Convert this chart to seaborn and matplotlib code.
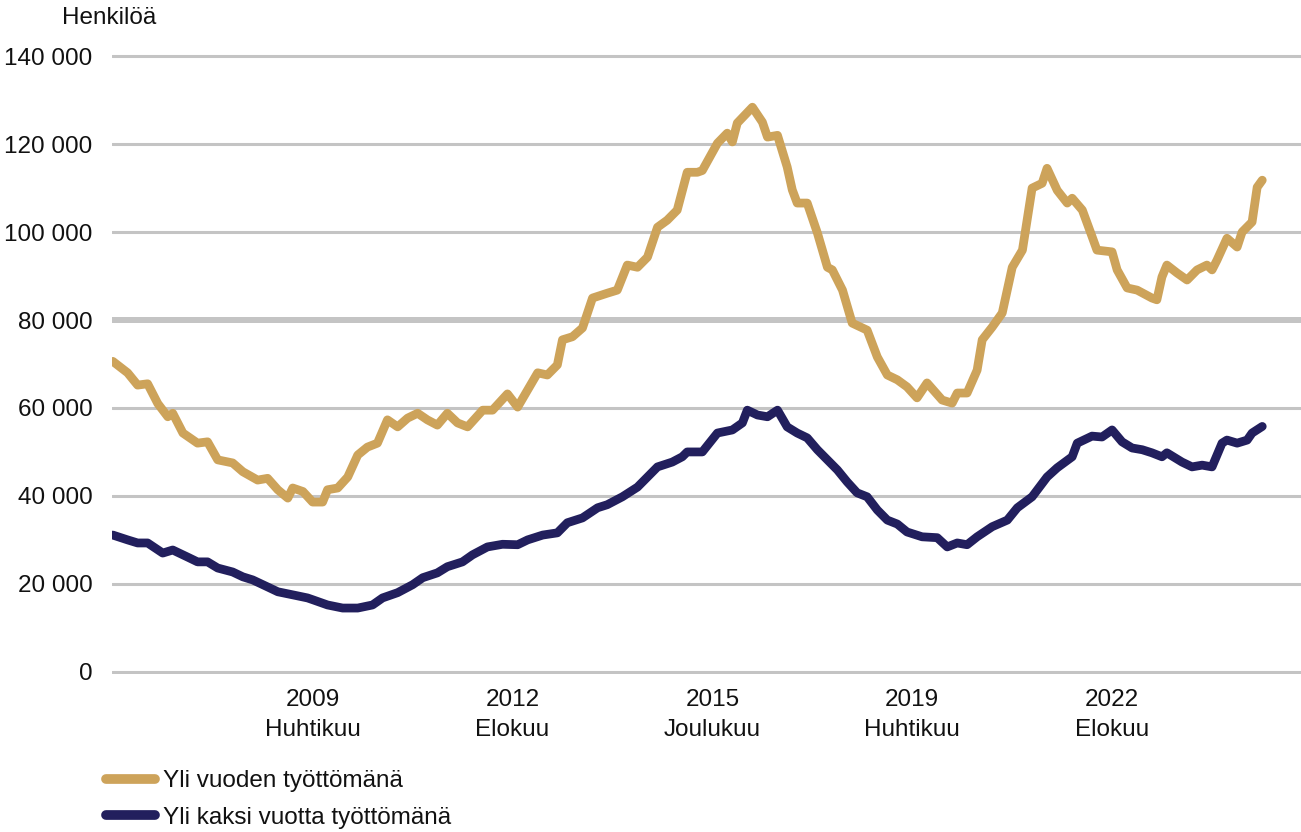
import matplotlib
matplotlib.use("Agg")
import matplotlib.pyplot as plt
import matplotlib.ticker as mticker
from matplotlib.lines import Line2D
import pandas as pd
import seaborn as sns

# ---- data (thousands of persons) ----
gold_dates = [
    "2005-12", "2006-03", "2006-05", "2006-07", "2006-09", "2006-11", "2006-12",
    "2007-02", "2007-05", "2007-07", "2007-09", "2007-12", "2008-02", "2008-05",
    "2008-07", "2008-09", "2008-11", "2008-12", "2009-02", "2009-04", "2009-06",
    "2009-07", "2009-09", "2009-11", "2010-01", "2010-03", "2010-05", "2010-07",
    "2010-09", "2010-11", "2011-01", "2011-03", "2011-05", "2011-07", "2011-09",
    "2011-11", "2012-02", "2012-04", "2012-07", "2012-09", "2012-11", "2013-01",
    "2013-03", "2013-05", "2013-06", "2013-08", "2013-10", "2013-12", "2014-03",
    "2014-05", "2014-07", "2014-09", "2014-11", "2015-01", "2015-03", "2015-05",
    "2015-07", "2015-09", "2015-10", "2016-01", "2016-03", "2016-04", "2016-05",
    "2016-08", "2016-10", "2016-11", "2017-01", "2017-03", "2017-04", "2017-05",
    "2017-07", "2017-09", "2017-11", "2017-12", "2018-02", "2018-04", "2018-07",
    "2018-09", "2018-11", "2019-01", "2019-03", "2019-05", "2019-07", "2019-10",
    "2019-12", "2020-01", "2020-03", "2020-05", "2020-06", "2020-08", "2020-10",
    "2020-12", "2021-02", "2021-04", "2021-06", "2021-07", "2021-09", "2021-11",
    "2021-12", "2022-02", "2022-04", "2022-05", "2022-08", "2022-09", "2022-11",
    "2023-01", "2023-04", "2023-05", "2023-06", "2023-07", "2023-09", "2023-11",
    "2024-01", "2024-03", "2024-04", "2024-05", "2024-07", "2024-09", "2024-10",
    "2024-12", "2025-01", "2025-02",
]
gold_values = [
    70.6, 68.0, 65.2, 65.5, 61.0, 58.0, 58.8,
    54.3, 52.0, 52.3, 48.2, 47.5, 45.5, 43.6,
    44.0, 41.4, 39.5, 41.8, 41.0, 38.6, 38.6,
    41.4, 41.8, 44.3, 49.3, 51.1, 52.0, 57.3,
    55.7, 57.7, 58.8, 57.3, 56.1, 58.8, 56.6,
    55.7, 59.5, 59.5, 63.2, 60.2, 64.1, 68.0,
    67.5, 69.8, 75.5, 76.2, 78.2, 85.0, 86.1,
    86.8, 92.5, 92.0, 94.3, 101.1, 102.7, 105.0,
    113.6, 113.6, 114.0, 120.2, 122.5, 120.5, 124.8,
    128.4, 125.0, 121.6, 122.0, 114.8, 109.6, 106.6,
    106.6, 99.8, 92.0, 91.4, 86.8, 79.3, 77.7,
    71.6, 67.5, 66.4, 64.8, 62.3, 65.7, 61.8,
    61.1, 63.4, 63.4, 68.6, 75.5, 78.4, 81.6,
    92.0, 95.9, 110.0, 111.1, 114.5, 109.5, 106.6,
    107.7, 105.0, 99.0, 95.9, 95.5, 91.4, 87.3,
    86.8, 85.0, 84.6, 89.8, 92.5, 90.7, 89.1,
    91.4, 92.5, 91.4, 93.6, 98.6, 96.6, 100.0,
    102.3, 110.2, 111.8,
]

navy_dates = [
    "2005-12", "2006-03", "2006-05", "2006-07", "2006-10", "2006-12", "2007-03",
    "2007-05", "2007-07", "2007-09", "2007-12", "2008-02", "2008-04", "2008-07",
    "2008-09", "2008-12", "2009-03", "2009-04", "2009-07", "2009-10", "2010-01",
    "2010-04", "2010-06", "2010-09", "2010-12", "2011-02", "2011-05", "2011-07",
    "2011-10", "2011-12", "2012-03", "2012-06", "2012-09", "2012-11", "2013-02",
    "2013-05", "2013-07", "2013-10", "2014-01", "2014-03", "2014-06", "2014-09",
    "2014-11", "2015-01", "2015-04", "2015-06", "2015-07", "2015-09", "2015-10",
    "2016-01", "2016-04", "2016-06", "2016-07", "2016-09", "2016-11", "2017-01",
    "2017-03", "2017-05", "2017-07", "2017-09", "2017-11", "2018-01", "2018-03",
    "2018-05", "2018-07", "2018-09", "2018-11", "2019-01", "2019-03", "2019-06",
    "2019-09", "2019-11", "2020-01", "2020-03", "2020-05", "2020-08", "2020-11",
    "2021-01", "2021-04", "2021-07", "2021-09", "2021-12", "2022-01", "2022-04",
    "2022-06", "2022-08", "2022-10", "2022-12", "2023-02", "2023-04", "2023-06",
    "2023-07", "2023-10", "2023-12", "2024-02", "2024-04", "2024-06", "2024-07",
    "2024-09", "2024-11", "2024-12", "2025-02",
]
navy_values = [
    31.1, 30.0, 29.3, 29.3, 27.0, 27.7, 26.1,
    25.0, 25.0, 23.6, 22.7, 21.6, 20.9, 19.3,
    18.2, 17.5, 16.8, 16.4, 15.2, 14.5, 14.5,
    15.2, 16.8, 18.0, 19.8, 21.4, 22.5, 23.9,
    25.0, 26.6, 28.4, 29.0, 28.9, 30.0, 31.1,
    31.6, 33.9, 35.0, 37.3, 38.0, 39.8, 42.0,
    44.3, 46.6, 47.7, 48.9, 50.0, 50.0, 50.0,
    54.3, 55.0, 56.6, 59.5, 58.4, 58.0, 59.5,
    55.7, 54.3, 53.2, 50.5, 48.2, 45.9, 43.2,
    40.7, 39.8, 36.8, 34.5, 33.6, 31.8, 30.7,
    30.5, 28.4, 29.3, 28.9, 30.7, 33.0, 34.5,
    37.3, 39.8, 44.3, 46.4, 48.9, 52.0, 53.6,
    53.4, 55.0, 52.3, 50.9, 50.5, 49.8, 48.9,
    49.8, 47.7, 46.6, 47.0, 46.6, 52.0, 52.7,
    52.0, 52.7, 54.3, 55.8,
]

series_names = ["Yli vuoden työttömänä", "Yli kaksi vuotta työttömänä"]
series_colors = ["#CDA35A", "#221F5D"]

tick_dates = ["2009-04", "2012-08", "2015-12", "2019-04", "2022-08"]
tick_labels = ["2009\nHuhtikuu", "2012\nElokuu", "2015\nJoulukuu",
               "2019\nHuhtikuu", "2022\nElokuu"]
y_ticks = [0, 20000, 40000, 60000, 80000, 100000, 120000, 140000]
y_unit_label = "Henkilöä"

# ---- build long-form data ----
frames = []
for name, dates, vals in [(series_names[0], gold_dates, gold_values),
                          (series_names[1], navy_dates, navy_values)]:
    frames.append(pd.DataFrame({
        "date": pd.to_datetime(dates),
        "value": [v * 1000 for v in vals],
        "series": name,
    }))
df = pd.concat(frames, ignore_index=True)

sns.set_theme(style="white")
plt.rcParams["font.family"] = ["Liberation Sans", "DejaVu Sans"]

FS = 17.5
W, H = 1301, 832
fig = plt.figure(figsize=(W / 100, H / 100), dpi=100)
ax = fig.add_axes([112 / W, 1 - 674 / H, (W - 112) / W, (674 - 54) / H])

# grid lines
for t in y_ticks:
    ax.axhline(t, color="#C4C4C4", lw=4.3 if t == 80000 else 2.2, zorder=0)

sns.lineplot(data=df, x="date", y="value", hue="series",
             hue_order=series_names, palette=series_colors,
             linewidth=6.3, ax=ax, legend=False, estimator=None, sort=True)
for ln in ax.lines:
    ln.set_solid_capstyle("round")
    ln.set_solid_joinstyle("round")

ax.set_ylim(-500, 140500)
ax.set_xlim(pd.Timestamp("2005-11-26"), pd.Timestamp("2025-09-25"))
ax.set_yticks(y_ticks)
ax.yaxis.set_major_formatter(mticker.FuncFormatter(
    lambda v, p: f"{v:,.0f}".replace(",", " ")))
ax.set_xticks(pd.to_datetime(tick_dates))
ax.set_xticklabels(tick_labels, linespacing=1.45)
ax.tick_params(axis="y", length=0, pad=14, labelsize=FS, labelcolor="#111111")
ax.tick_params(axis="x", length=0, pad=11, labelsize=FS, labelcolor="#111111")
ax.set_xlabel("")
ax.set_ylabel("")
for s in ax.spines.values():
    s.set_visible(False)
ax.grid(False)

fig.text(62 / W, 1 - 18 / H, y_unit_label, fontsize=FS, color="#111111",
         va="center", ha="left")

handles = [Line2D([], [], color=c, lw=7, solid_capstyle="round") for c in series_colors]
fig.legend(handles, series_names, loc="upper left",
           bbox_to_anchor=(106 / W, 1 - 770 / H), frameon=False,
           fontsize=FS, handlelength=2.0, handletextpad=0.35,
           labelspacing=0.6, borderpad=0, borderaxespad=0,
           labelcolor="#111111")

fig.savefig("out.png", dpi=100)
